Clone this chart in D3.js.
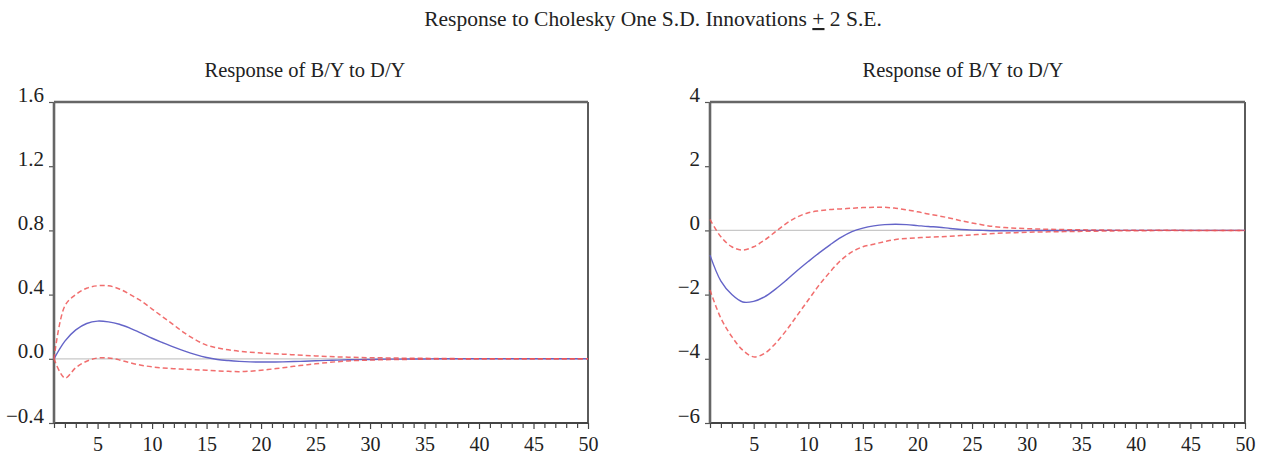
<!DOCTYPE html>
<html><head><meta charset="utf-8">
<script src="https://cdn.jsdelivr.net/npm/d3@7"></script>
<style>body{margin:0;background:#fff}svg{display:block}</style>
</head><body>
<svg id="c" width="1263" height="457"></svg>
<script>
const periods = d3.range(1, 51);
// Left panel
const leftResp = [0.0,0.11,0.18,0.22,0.235,0.23,0.215,0.19,0.16,0.128,0.1,0.073,0.048,0.026,0.008,-0.004,-0.011,-0.016,-0.019,-0.02,-0.02,-0.019,-0.017,-0.015,-0.012,-0.01,-0.008,-0.006,-0.005,-0.004,-0.003,-0.002,-0.002,-0.001,-0.001,0,0,0,0,0,0,0,0,0,0,0,0,0,0,0];
const leftUpper = [0.0,0.33,0.40,0.44,0.455,0.455,0.435,0.40,0.36,0.31,0.26,0.21,0.16,0.118,0.085,0.068,0.056,0.047,0.041,0.036,0.032,0.029,0.025,0.021,0.018,0.015,0.012,0.01,0.008,0.007,0.006,0.005,0.004,0.003,0.003,0.002,0.002,0.001,0.001,0.001,0,0,0,0,0,0,0,0,0,0];
const leftLower = [0.0,-0.12,-0.055,-0.015,0.005,0.005,-0.007,-0.025,-0.04,-0.05,-0.057,-0.062,-0.065,-0.068,-0.071,-0.075,-0.078,-0.08,-0.077,-0.072,-0.064,-0.056,-0.047,-0.039,-0.031,-0.024,-0.018,-0.013,-0.01,-0.008,-0.006,-0.005,-0.004,-0.003,-0.002,-0.002,-0.001,-0.001,-0.001,0,0,0,0,0,0,0,0,0,0,0];
// Right panel
const rightResp = [-0.77,-1.58,-2.0,-2.23,-2.21,-2.07,-1.83,-1.55,-1.25,-0.97,-0.7,-0.45,-0.22,-0.04,0.07,0.14,0.18,0.19,0.18,0.15,0.12,0.1,0.06,0.03,0.01,0.0,-0.01,-0.01,-0.01,-0.006,-0.004,-0.003,-0.002,-0.001,0,0,0,0,0,0,0,0,0,0,0,0,0,0,0,0];
const rightUpper = [0.34,-0.2,-0.51,-0.61,-0.51,-0.3,-0.04,0.22,0.42,0.55,0.61,0.65,0.67,0.69,0.71,0.72,0.72,0.69,0.64,0.58,0.51,0.45,0.38,0.3,0.23,0.17,0.12,0.09,0.07,0.055,0.045,0.035,0.028,0.022,0.018,0.014,0.01,0.008,0.006,0.005,0.003,0.002,0.002,0.001,0,0,0,0,0,0];
const rightLower = [-1.86,-2.74,-3.31,-3.73,-3.94,-3.83,-3.52,-3.11,-2.64,-2.17,-1.7,-1.29,-0.93,-0.67,-0.51,-0.43,-0.35,-0.28,-0.25,-0.23,-0.21,-0.2,-0.18,-0.16,-0.14,-0.12,-0.1,-0.08,-0.07,-0.06,-0.05,-0.045,-0.04,-0.035,-0.03,-0.025,-0.02,-0.015,-0.012,-0.01,-0.008,-0.006,-0.004,-0.003,-0.002,-0.001,0,0,0,0];
const leftTicks = [-0.4, 0.0, 0.4, 0.8, 1.2, 1.6];
const rightTicks = [-6, -4, -2, 0, 2, 4];
const xTicks = [5,10,15,20,25,30,35,40,45,50];
const mainTitle = "Response to Cholesky One S.D. Innovations ";
const panelTitles = ["Response of B/Y to D/Y", "Response of B/Y to D/Y"];

const svg = d3.select("#c");
const FONT = "'Liberation Serif','Times New Roman',serif";

const t = svg.append("text").attr("x", 653).attr("y", 26).attr("text-anchor","middle")
  .attr("font-family", FONT).attr("font-size", 21.5).attr("fill","#222");
t.append("tspan").text(mainTitle);
t.append("tspan").attr("text-decoration","underline").text("+");
t.append("tspan").text(" 2 S.E.");

function panel(cfg) {
  const {x0, x1, y0, y1, domain, ticks, fmt, resp, up, lo, title, titleX} = cfg;
  const g = svg.append("g");
  const x = d3.scaleLinear().domain([1, 50]).range([x0, x1]);
  const y = d3.scaleLinear().domain(domain).range([y1, y0]);
  g.append("text").attr("x", titleX).attr("y", 76.5).attr("text-anchor","middle")
    .attr("font-family", FONT).attr("font-size", 20.5).attr("fill","#222").text(title);
  g.append("line").attr("x1", x0).attr("x2", x1).attr("y1", y(0)).attr("y2", y(0))
    .attr("stroke", "#c8c8c8").attr("stroke-width", 1.2);
  const xa = g.append("g").attr("transform", `translate(0,${y1})`)
    .call(d3.axisBottom(x).tickValues(periods).tickSize(5).tickFormat(d => xTicks.includes(d) ? d : ""));
  xa.select(".domain").remove();
  xa.selectAll(".tick line").attr("stroke", "#444").attr("stroke-width", 1.2)
    .attr("y2", d => xTicks.includes(d) ? 6 : 5);
  xa.selectAll(".tick text").attr("font-family", FONT).attr("font-size", 20).attr("fill","#222")
    .attr("y", 28).attr("dy", "0");
  const ya = g.append("g").attr("transform", `translate(${x0},0)`)
    .call(d3.axisLeft(y).tickValues(ticks).tickSize(5).tickFormat(d => fmt(d).replace("-", "\u2013")));
  ya.select(".domain").remove();
  ya.selectAll(".tick line").attr("stroke", "#555").attr("stroke-width", 1.2);
  ya.selectAll(".tick text").attr("font-family", FONT).attr("font-size", 21).attr("fill","#222")
    .attr("x", -10).attr("dy", "-1");
  g.append("line").attr("x1", x1).attr("x2", x1).attr("y1", y0).attr("y2", y1).attr("stroke","#333").attr("stroke-width",1.6);
  g.append("line").attr("x1", x0).attr("x2", x1).attr("y1", y1).attr("y2", y1).attr("stroke","#444").attr("stroke-width",2);
  g.append("line").attr("x1", x0).attr("x2", x1).attr("y1", y0).attr("y2", y0).attr("stroke","#666").attr("stroke-width",2.6);
  g.append("line").attr("x1", x0).attr("x2", x0).attr("y1", y0).attr("y2", y1).attr("stroke","#666").attr("stroke-width",2.6);
  const line = d3.line().x((d, i) => x(periods[i])).y(d => y(d)).curve(d3.curveCatmullRom.alpha(0.5));
  g.append("path").attr("d", line(resp)).attr("fill","none").attr("stroke","#6464c8").attr("stroke-width",1.4);
  [up, lo].forEach(s => g.append("path").attr("d", line(s)).attr("fill","none")
    .attr("stroke","#ee5555").attr("stroke-opacity",0.85).attr("stroke-width",1.5).attr("stroke-dasharray","5,3"));
}

panel({x0: 54, x1: 588, y0: 102, y1: 423, domain: [-0.4, 1.6], ticks: leftTicks, fmt: d3.format(".1f"),
  resp: leftResp, up: leftUpper, lo: leftLower, title: panelTitles[0], titleX: 305});
panel({x0: 710, x1: 1245, y0: 102, y1: 423, domain: [-6, 4], ticks: rightTicks, fmt: d3.format("d"),
  resp: rightResp, up: rightUpper, lo: rightLower, title: panelTitles[1], titleX: 963});
</script>
</body></html>
